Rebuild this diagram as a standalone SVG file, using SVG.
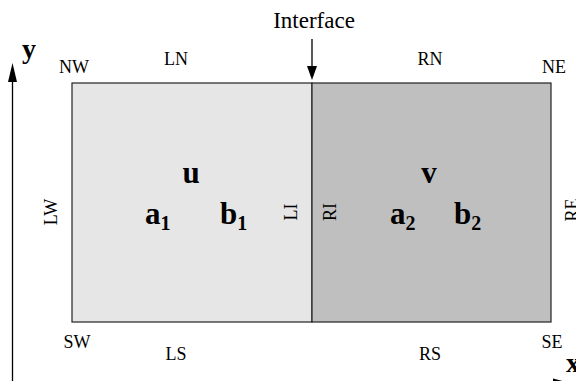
<svg xmlns="http://www.w3.org/2000/svg" width="576" height="381" viewBox="0 0 576 381">
<defs>
<style>
.lbl{font-family:"Liberation Serif",serif;font-size:18px;fill:#000}
.big{font-family:"Liberation Serif",serif;font-size:31px;font-weight:bold;fill:#000}
.sub{font-size:20px}
.ax{stroke:#000;stroke-width:1.3;fill:none}
</style>
</defs>
<g id="left-region"><rect x="72" y="83" width="240" height="239" fill="#e6e6e6" stroke="#222" stroke-width="1.2"/></g>
<g id="right-region"><rect x="312" y="83" width="239" height="239" fill="#bfbfbf" stroke="#222" stroke-width="1.2"/></g>
<g id="connectors">
<line class="ax" x1="12.5" y1="381" x2="12.5" y2="80"/>
<path d="M8,82 L17,82 L12.5,63 Z" fill="#000"/>
<line class="ax" x1="312" y1="39" x2="312" y2="68"/>
<path d="M307,66 L317,66 L312,80 Z" fill="#000"/>
<line class="ax" x1="12.5" y1="384" x2="556" y2="384"/>
<path d="M553,378.5 L553,389.5 L574,384 Z" fill="#000"/>
</g>
<g id="labels">
<text class="lbl" x="314" y="28" text-anchor="middle" style="font-size:23px">Interface</text>
<text class="big" x="29" y="58" text-anchor="middle" style="font-size:28px">y</text>
<text class="big" x="566" y="372" style="font-size:28px">x</text>
<text class="lbl" x="74" y="73" text-anchor="middle">NW</text>
<text class="lbl" x="176" y="65" text-anchor="middle">LN</text>
<text class="lbl" x="430" y="65" text-anchor="middle">RN</text>
<text class="lbl" x="554" y="73" text-anchor="middle">NE</text>
<text class="lbl" x="77" y="348" text-anchor="middle">SW</text>
<text class="lbl" x="176" y="360" text-anchor="middle">LS</text>
<text class="lbl" x="430" y="360" text-anchor="middle">RS</text>
<text class="lbl" x="552" y="348" text-anchor="middle">SE</text>
<text class="lbl" transform="translate(57,212) rotate(-90)" text-anchor="middle">LW</text>
<text class="lbl" transform="translate(297,212) rotate(-90)" text-anchor="middle">LI</text>
<text class="lbl" transform="translate(336,212) rotate(-90)" text-anchor="middle">RI</text>
<text class="lbl" transform="translate(578,210) rotate(-90)" text-anchor="middle">RE</text>
<text class="big" x="191" y="183" text-anchor="middle">u</text>
<text class="big" x="429" y="183" text-anchor="middle">v</text>
<text class="big" x="145" y="224">a<tspan class="sub" dy="6">1</tspan></text>
<text class="big" x="220" y="224">b<tspan class="sub" dy="6">1</tspan></text>
<text class="big" x="390" y="224">a<tspan class="sub" dy="6">2</tspan></text>
<text class="big" x="454" y="224">b<tspan class="sub" dy="6">2</tspan></text>
</g>
</svg>
